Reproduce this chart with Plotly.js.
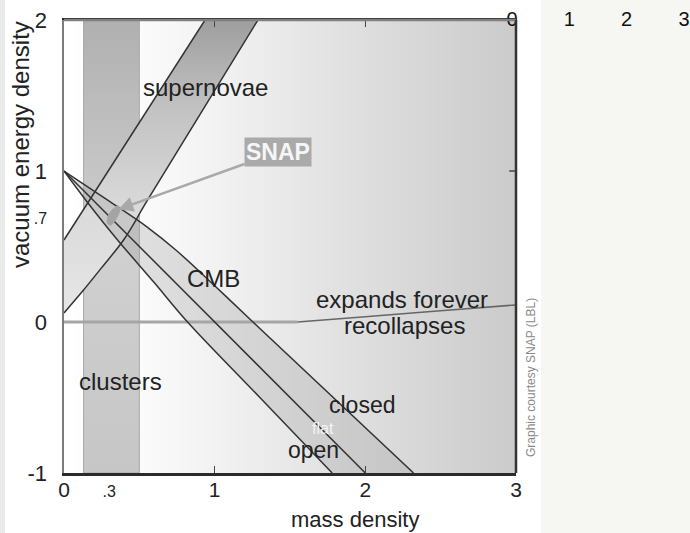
<!DOCTYPE html>
<html>
<head>
<meta charset="utf-8">
<script src="https://cdn.plot.ly/plotly-3.0.1.min.js"></script>
<style>html,body{margin:0;padding:0;background:#fff;}#chart{width:690px;height:533px;}</style>
</head>
<body>
<div id="chart"></div>
<script>
// ---- data ----
const xTickVals = [0, 0.3, 1, 2, 3];
const xTickText = ['0', '.3', '1', '2', '3'];
const yTickVals = [-1, 0, 0.7, 1, 2];
const yTickText = ['-1', '0', '.7', '1', '2'];
const topTickVals = [0, 1, 2, 3];

// background shade (grey level) across mass density
const bgX = [0, 0.5, 1, 1.5, 2, 2.5, 3];
const bgShade = [255, 251, 242, 232, 222, 212, 203];

// clusters band (mass density range)
const clustersLo = 0.13;
const clustersHi = 0.5;

// supernovae band
const snLeftX = [0, 0.936];
const snLeftY = [0.543, 2.0];
const snRightX = [0, 0.12, 0.25, 0.40, 0.55, 0.90, 1.287];
const snRightY = [0.06, 0.20, 0.36, 0.55, 0.80, 1.37, 2.0];

// CMB band
const cmbOpenX = [0, 0.15, 0.35, 0.6, 0.82, 1.30, 1.78];
const cmbOpenY = [1, 0.80, 0.55, 0.26, 0, -0.50, -1];
const cmbFlatX = [0, 2];
const cmbFlatY = [1, -1];
const cmbClosedX = [0, 0.3, 0.55, 0.75, 1.0, 1.254, 2.32];
const cmbClosedY = [1, 0.80, 0.63, 0.47, 0.24, 0, -1];

// expands forever / recollapses boundary
const bndFlatX = [0, 1.55];
const bndFlatY = [0, 0];
const bndRiseX = [1.55, 2.0, 2.5, 3.0];
const bndRiseY = [0, 0.035, 0.075, 0.113];

// SNAP error ellipse
const snapX = [0.358, 0.37, 0.35, 0.31, 0.288, 0.30, 0.358];
const snapY = [0.77, 0.745, 0.69, 0.642, 0.655, 0.715, 0.77];
const snapLabelX = 1.42, snapLabelY = 1.126;

// region labels
const labelText = ['supernovae', 'CMB', 'expands forever', 'recollapses', 'clusters', 'closed', 'flat', 'open'];
const labelX = [0.936, 0.989, 2.243, 2.263, 0.378, 1.977, 1.719, 1.659];
const labelY = [1.55, 0.291, 0.146, -0.026, -0.397, -0.549, -0.702, -0.847];
const labelSize = [24, 24, 24, 24, 24, 23, 16, 23];
const labelColor = ['#222', '#222', '#222', '#222', '#222', '#222', '#f4f4f4', '#222'];

// ---- build ----
const FONT = 'Liberation Sans, Arial, Helvetica, sans-serif';
const dark = '#333333';

const traces = [];
// background gradient
traces.push({
  type: 'heatmap', x: bgX, y: [-1, 2], z: [bgShade, bgShade],
  zmin: 0, zmax: 255, zsmooth: 'best',
  colorscale: [[0, 'rgb(0,0,0)'], [1, 'rgb(255,255,255)']],
  showscale: false, hoverinfo: 'skip'
});
// clusters band
traces.push({
  type: 'scatter', mode: 'lines', hoverinfo: 'skip', showlegend: false,
  x: [clustersLo, clustersHi, clustersHi, clustersLo, clustersLo],
  y: [-1, -1, 2, 2, -1],
  fill: 'toself',
  fillgradient: {type: 'vertical', colorscale: [[0, '#c6c6c6'], [0.5, '#d0d0d0'], [1, '#b0b0b0']]},
  line: {color: '#a8a8a8', width: 1}
});
// supernova band fill
traces.push({
  type: 'scatter', mode: 'lines', hoverinfo: 'skip', showlegend: false,
  x: snLeftX.concat(snRightX.slice().reverse()),
  y: snLeftY.concat(snRightY.slice().reverse()),
  fill: 'toself',
  fillgradient: {type: 'vertical', colorscale: [[0, '#e6e6e6'], [0.35, '#dadada'], [0.7, '#c2c2c2'], [1, '#9e9e9e']]},
  line: {width: 0}
});
// CMB band fill
traces.push({
  type: 'scatter', mode: 'lines', hoverinfo: 'skip', showlegend: false,
  x: cmbOpenX.concat(cmbClosedX.slice().reverse()),
  y: cmbOpenY.concat(cmbClosedY.slice().reverse()),
  fill: 'toself', fillcolor: 'rgba(150,150,150,0.28)',
  line: {width: 0}
});
// boundary lines
traces.push({type: 'scatter', mode: 'lines', hoverinfo: 'skip', showlegend: false,
  x: bndFlatX, y: bndFlatY, line: {color: '#a6a6a6', width: 3}});
traces.push({type: 'scatter', mode: 'lines', hoverinfo: 'skip', showlegend: false,
  x: bndRiseX, y: bndRiseY, line: {color: '#666', width: 1.6, shape: 'spline'}});
// supernova lines
traces.push({type: 'scatter', mode: 'lines', hoverinfo: 'skip', showlegend: false,
  x: snLeftX, y: snLeftY, line: {color: dark, width: 1.5}});
traces.push({type: 'scatter', mode: 'lines', hoverinfo: 'skip', showlegend: false,
  x: snRightX, y: snRightY, line: {color: dark, width: 1.5, shape: 'spline'}});
// CMB lines
[[cmbOpenX, cmbOpenY], [cmbFlatX, cmbFlatY], [cmbClosedX, cmbClosedY]].forEach(function (p) {
  traces.push({type: 'scatter', mode: 'lines', hoverinfo: 'skip', showlegend: false,
    x: p[0], y: p[1], line: {color: dark, width: 1.5, shape: 'spline'}});
});
// SNAP ellipse
traces.push({type: 'scatter', mode: 'lines', hoverinfo: 'skip', showlegend: false,
  x: snapX, y: snapY, fill: 'toself', fillcolor: '#a4a4a4',
  line: {color: '#a4a4a4', width: 1, shape: 'spline'}});
// carrier for the top-right axis
traces.push({type: 'scatter', mode: 'markers', hoverinfo: 'skip', showlegend: false,
  xaxis: 'x2', yaxis: 'y', x: topTickVals, y: topTickVals.map(function () { return null; }),
  marker: {opacity: 0}});

const small = function (t) { return '<span style="font-size:16px">' + t + '</span>'; };

const annotations = labelText.map(function (t, i) {
  return {x: labelX[i], y: labelY[i], xref: 'x', yref: 'y', text: t, showarrow: false,
    font: {family: FONT, size: labelSize[i], color: labelColor[i]}, xanchor: 'center', yanchor: 'middle'};
});
annotations.push({
  x: snapX[1] - 0.01, y: snapY[1], xref: 'x', yref: 'y',
  ax: snapLabelX, ay: snapLabelY, axref: 'x', ayref: 'y',
  text: '<b>SNAP</b>', showarrow: true, arrowhead: 2, arrowsize: 1.2, arrowwidth: 2.5,
  arrowcolor: '#a9a9a9', standoff: 0, bgcolor: '#aaaaaa', borderpad: 1,
  font: {family: FONT, size: 23, color: '#f6f6f6'}
});
annotations.push({x: (20 - 64) / 626, y: (473 - 145) / 468, xref: 'paper', yref: 'paper',
  text: 'vacuum energy density', textangle: -90, showarrow: false,
  font: {family: FONT, size: 24, color: '#222'}, xanchor: 'center', yanchor: 'middle'});
annotations.push({x: (355 - 64) / 626, y: (473 - 519) / 468, xref: 'paper', yref: 'paper',
  text: 'mass density', showarrow: false,
  font: {family: FONT, size: 22, color: '#222'}, xanchor: 'center', yanchor: 'middle'});
annotations.push({x: (531 - 64) / 626, y: (473 - 378) / 468, xref: 'paper', yref: 'paper',
  text: 'Graphic courtesy SNAP (LBL)', textangle: -90, showarrow: false,
  font: {family: FONT, size: 12, color: '#8a8a8a'}, xanchor: 'center', yanchor: 'middle'});

const layout = {
  width: 690, height: 533,
  margin: {l: 64, r: 0, t: 5, b: 60},
  paper_bgcolor: '#ffffff', plot_bgcolor: 'rgba(0,0,0,0)',
  showlegend: false,
  font: {family: FONT, color: '#222'},
  xaxis: {
    domain: [0, 452 / 626], range: [0, 3], tickmode: 'array', tickvals: xTickVals,
    ticktext: xTickText.map(function (t) { return t.charAt(0) === '.' ? small(t) : t; }),
    ticks: '', showgrid: false, zeroline: false, showline: true, linecolor: '#2b2b2b', linewidth: 2.5,
    mirror: 'ticks', ticklabelstandoff: -4,
    minor: {tickvals: [1, 2], ticks: 'inside', ticklen: 7, tickwidth: 1.5, tickcolor: '#444', showgrid: false},
    tickfont: {family: FONT, size: 21, color: '#222'}, fixedrange: true
  },
  yaxis: {
    domain: [0, 453 / 468], range: [-1, 2], tickmode: 'array', tickvals: yTickVals,
    ticktext: yTickText.map(function (t) { return t.charAt(0) === '.' ? small(t) : t; }),
    ticks: '', showgrid: false, zeroline: false, showline: true, linecolor: '#7d7d7d', linewidth: 2.5,
    ticklabelstandoff: 10,
    tickfont: {family: FONT, size: 22, color: '#222'}, fixedrange: true
  },
  xaxis2: {
    domain: [(512 - 64) / 626, (684 - 64) / 626], range: [0, 3], anchor: 'free', position: (473 - 30) / 468,
    side: 'top', tickmode: 'array', tickvals: topTickVals, ticks: '', showgrid: false, zeroline: false,
    showline: false, tickfont: {family: FONT, size: 20, color: '#111'}, fixedrange: true
  },
  shapes: [
    {type: 'rect', xref: 'paper', yref: 'paper', x0: (541 - 64) / 626, x1: 1.0, y0: (473 - 533) / 468, y1: 473 / 468,
      fillcolor: '#f6f6f2', line: {width: 0}, layer: 'below'},
    {type: 'rect', xref: 'paper', yref: 'paper', x0: -64 / 626, x1: (5 - 64) / 626, y0: (473 - 533) / 468, y1: 473 / 468,
      fillcolor: '#e9ebea', line: {width: 0}, layer: 'below'},
    {type: 'line', xref: 'x domain', yref: 'y domain', x0: 0, x1: 1, y0: 1, y1: 1,
      line: {color: '#808080', width: 2.5}, layer: 'above'},
    {type: 'line', xref: 'x domain', yref: 'y domain', x0: 1, x1: 1, y0: 0, y1: 1,
      line: {color: '#333', width: 2.5}, layer: 'above'},
    {type: 'line', xref: 'x domain', yref: 'y', x0: 0.985, x1: 1, y0: 1, y1: 1,
      line: {color: '#444', width: 1.5}, layer: 'above'}
  ],
  annotations: annotations
};

Plotly.newPlot('chart', traces, layout, {displayModeBar: false, staticPlot: true});
</script>
</body>
</html>
